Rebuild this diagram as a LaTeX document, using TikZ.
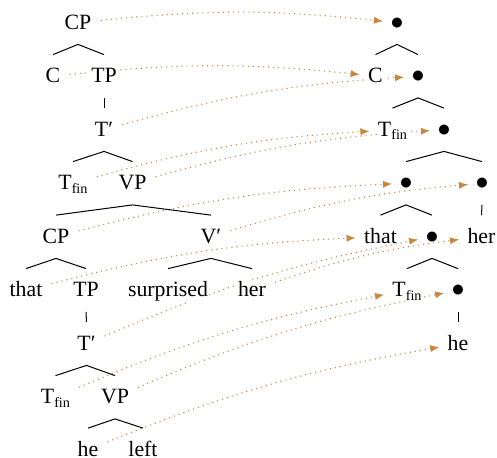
\documentclass[tikz,border=0pt]{standalone}
\usepackage{fontspec}
\usepackage{graphicx}
\setmainfont{Liberation Serif}
\usetikzlibrary{arrows.meta}
\pgfdeclarelayer{bg}
\pgfsetlayers{bg,main}
\setlength{\fboxsep}{0.5pt}
\definecolor{movecol}{RGB}{200,135,65}
\newcommand{\Tfin}{T\raisebox{-1.8pt}{\fontsize{7.1}{8}\selectfont fin}}
\newcommand{\wb}[1]{\colorbox{white}{#1}}
\newcommand{\bdot}{\scalebox{1.18}{$\bullet$}}
\begin{document}
\begin{tikzpicture}[x=0.5pt,y=0.5pt,
  lbl/.style={anchor=base, inner xsep=1pt, inner ysep=0pt, text height=13.75pt, text depth=7.5pt, font=\fontsize{10.9}{13}\selectfont},
  br/.style={line width=0.5pt},
  mv/.style={movecol, dotted, line width=0.55pt, -{Latex[length=4.6pt,width=3.6pt]}, bend left=6, shorten <=3pt, shorten >=2.5pt}]
\useasboundingbox (0,0) rectangle (497,-457);
% left tree
\node[lbl] (CPa) at (78,-29) {\wb{CP}};
\node[lbl] (Ca) at (53,-82.5) {\wb{C}};
\node[lbl] (TPa) at (104,-82.5) {\wb{TP}};
\node[lbl] (Tba) at (104,-136) {\wb{T′}};
\node[lbl] (Tfa) at (73,-189.5) {\wb{\Tfin}};
\node[lbl] (VPa) at (132.5,-189.5) {\wb{VP}};
\node[lbl] (CPb) at (56,-243) {\wb{CP}};
\node[lbl] (Vb) at (211,-243) {\wb{V′}};
\node[lbl] (thatb) at (26,-296.5) {\wb{that}};
\node[lbl] (TPb) at (86,-296.5) {\wb{TP}};
\node[lbl] (surp) at (168,-296.5) {\wb{surprised}};
\node[lbl] (herb) at (252,-296.5) {\wb{her}};
\node[lbl] (Tbb) at (86.5,-350) {\wb{T′}};
\node[lbl] (Tfb) at (55.5,-403.5) {\wb{\Tfin}};
\node[lbl] (VPb) at (115,-403.5) {\wb{VP}};
\node[lbl] (heb) at (88,-456) {\wb{he}};
\node[lbl] (leftb) at (143,-456) {\wb{left}};
% right tree
\node[lbl] (d1) at (397,-29) {\bdot};
\node[lbl] (Cr) at (375.5,-82.5) {\wb{C}};
\node[lbl] (d2) at (418,-82.5) {\bdot};
\node[lbl] (Tfr) at (392.5,-136) {\wb{\Tfin}};
\node[lbl] (d3) at (444,-136) {\bdot};
\node[lbl] (d4) at (406,-189.5) {\bdot};
\node[lbl] (d5) at (482,-189.5) {\bdot};
\node[lbl] (thatr) at (380.5,-243) {\wb{that}};
\node[lbl] (d6) at (432,-243) {\bdot};
\node[lbl] (herr) at (481.5,-243) {\wb{her}};
\node[lbl] (Tfr2) at (407,-296.5) {\wb{\Tfin}};
\node[lbl] (d7) at (458,-296.5) {\bdot};
\node[lbl] (her2) at (458,-350) {\wb{he}};
% branches left
\draw[br] (Ca.north) -- (CPa.south) -- (TPa.north);
\draw[br] (TPa.south) -- (Tba.north);
\draw[br] (Tfa.north) -- (Tba.south) -- (VPa.north);
\draw[br] (CPb.north) -- (VPa.south) -- (Vb.north);
\draw[br] (thatb.north) -- (CPb.south) -- (TPb.north);
\draw[br] (surp.north) -- (Vb.south) -- (herb.north);
\draw[br] (TPb.south) -- (Tbb.north);
\draw[br] (Tfb.north) -- (Tbb.south) -- (VPb.north);
\draw[br] (heb.north) -- (VPb.south) -- (leftb.north);
% branches right
\draw[br] (Cr.north) -- (d1.south) -- (d2.north);
\draw[br] (Tfr.north) -- (d2.south) -- (d3.north);
\draw[br] (d4.north) -- (d3.south) -- (d5.north);
\draw[br] (thatr.north) -- (d4.south) -- (d6.north);
\draw[br] (d5.south) -- (herr.north);
\draw[br] (Tfr2.north) -- (d6.south) -- (d7.north);
\draw[br] (d7.south) -- (her2.north);
% movement arrows
\begin{pgfonlayer}{bg}
\draw[mv] (CPa) to (d1);
\draw[mv] (Ca) to (Cr);
\draw[mv] (Tba) to (d2);
\draw[mv] (Tfa) to (Tfr);
\draw[mv] (VPa) to (d3);
\draw[mv] (CPb) to (d4);
\draw[mv] (Vb) to (d5);
\draw[mv] (thatb) to (thatr);
\draw[mv] (Tbb) to (d6);
\draw[mv] (herb) to (herr);
\draw[mv] (Tfb) to (Tfr2);
\draw[mv] (VPb) to (d7);
\draw[mv] (heb) to (her2);
\end{pgfonlayer}
\end{tikzpicture}
\end{document}
